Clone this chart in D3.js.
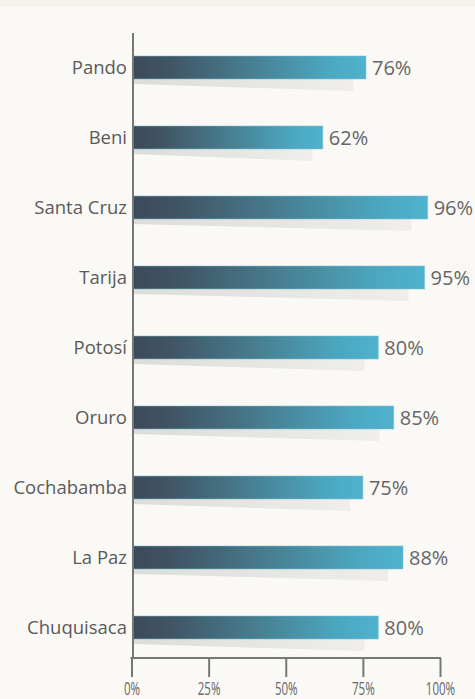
<!DOCTYPE html>
<html><head><meta charset="utf-8">
<script src="https://cdn.jsdelivr.net/npm/d3@7"></script>
<style>html,body{margin:0;padding:0;background:#faf9f6;}svg{display:block;}</style>
</head><body>
<script>
const categories = ["Pando","Beni","Santa Cruz","Tarija","Potosí","Oruro","Cochabamba","La Paz","Chuquisaca"];
const values = [76,62,96,95,80,85,75,88,80];
const tickValues = [0,25,50,75,100];
const tickLabels = ["0%","25%","50%","75%","100%"];

const W = 475, H = 699;
const svg = d3.select("body").append("svg").attr("width", W).attr("height", H);
svg.append("rect").attr("width", W).attr("height", H).attr("fill", "#faf9f6");
svg.append("rect").attr("width", W).attr("height", 7).attr("fill", "#f8f2ec");

const x = d3.scaleLinear().domain([0,100]).range([131.5, 440]);
const y = d3.scalePoint().domain(categories).range([32.5, 662.5]).padding(0.5);
const barH = 23;
const x0 = 133;

const defs = svg.append("defs");
const g1 = defs.append("linearGradient").attr("id","barGrad").attr("gradientUnits","objectBoundingBox");
[[0,"#3d4a5a"],[0.15,"#405464"],[0.5,"#477e90"],[0.85,"#4ca8c2"],[1,"#4fb2cd"]].forEach(s=>g1.append("stop").attr("offset",s[0]).attr("stop-color",s[1]));
const g2 = defs.append("linearGradient").attr("id","shGrad");
[[0,"#dcdcd9"],[1,"#efeeeb"]].forEach(s=>g2.append("stop").attr("offset",s[0]).attr("stop-color",s[1]));

const rows = svg.append("g").selectAll("g").data(categories).join("g");

rows.append("path")
  .attr("fill","url(#shGrad)")
  .attr("d",(d,i)=>{
    const yb = y(d) + barH/2;
    const xe = x0 + (x(values[i]) - x0) * 0.945;
    return `M${x0},${yb}L${xe},${yb}L${xe},${yb+12}L${x0},${yb+5}Z`;
  });

rows.append("rect")
  .attr("x", x0)
  .attr("y", d => y(d) - barH/2)
  .attr("width", (d,i) => x(values[i]) - x0)
  .attr("height", barH)
  .attr("fill","url(#barGrad)")
  .attr("stroke","#78c2d6").attr("stroke-opacity",0.55).attr("stroke-width",1);

rows.append("text")
  .attr("x", 127)
  .attr("y", d => y(d))
  .attr("dy","0.35em")
  .attr("text-anchor","end")
  .attr("font-family","Open Sans, sans-serif")
  .attr("font-size",18.5)
  .attr("fill","#5a5a5a")
  .text(d=>d);

rows.append("text")
  .attr("x", (d,i) => x(values[i]) + 6)
  .attr("y", d => y(d))
  .attr("dy","0.35em")
  .attr("font-family","Open Sans, sans-serif")
  .attr("font-size",20)
  .attr("fill","#666")
  .text((d,i)=>values[i]+"%");

// vertical axis
svg.append("line").attr("x1",x0).attr("x2",x0).attr("y1",33).attr("y2",658)
  .attr("stroke","#777").attr("stroke-width",2);

// horizontal axis
const ax = svg.append("g").attr("transform","translate(0,658)")
  .call(d3.axisBottom(x).tickValues(tickValues).tickSize(19).tickFormat((d,i)=>tickLabels[i]));
ax.select(".domain").attr("stroke","#777").attr("stroke-width",2).attr("d",`M${x(0)-1},0H${x(100)+1}`);
ax.selectAll(".tick line").attr("stroke","#777").attr("stroke-width",2);
ax.selectAll(".tick text")
  .attr("font-family","Open Sans, sans-serif")
  .attr("font-size",18)
  .attr("fill","#666")
  .attr("y",0)
  .attr("dy",0)
  .attr("transform","translate(0,37) scale(0.64,1)");
</script>
</body></html>
